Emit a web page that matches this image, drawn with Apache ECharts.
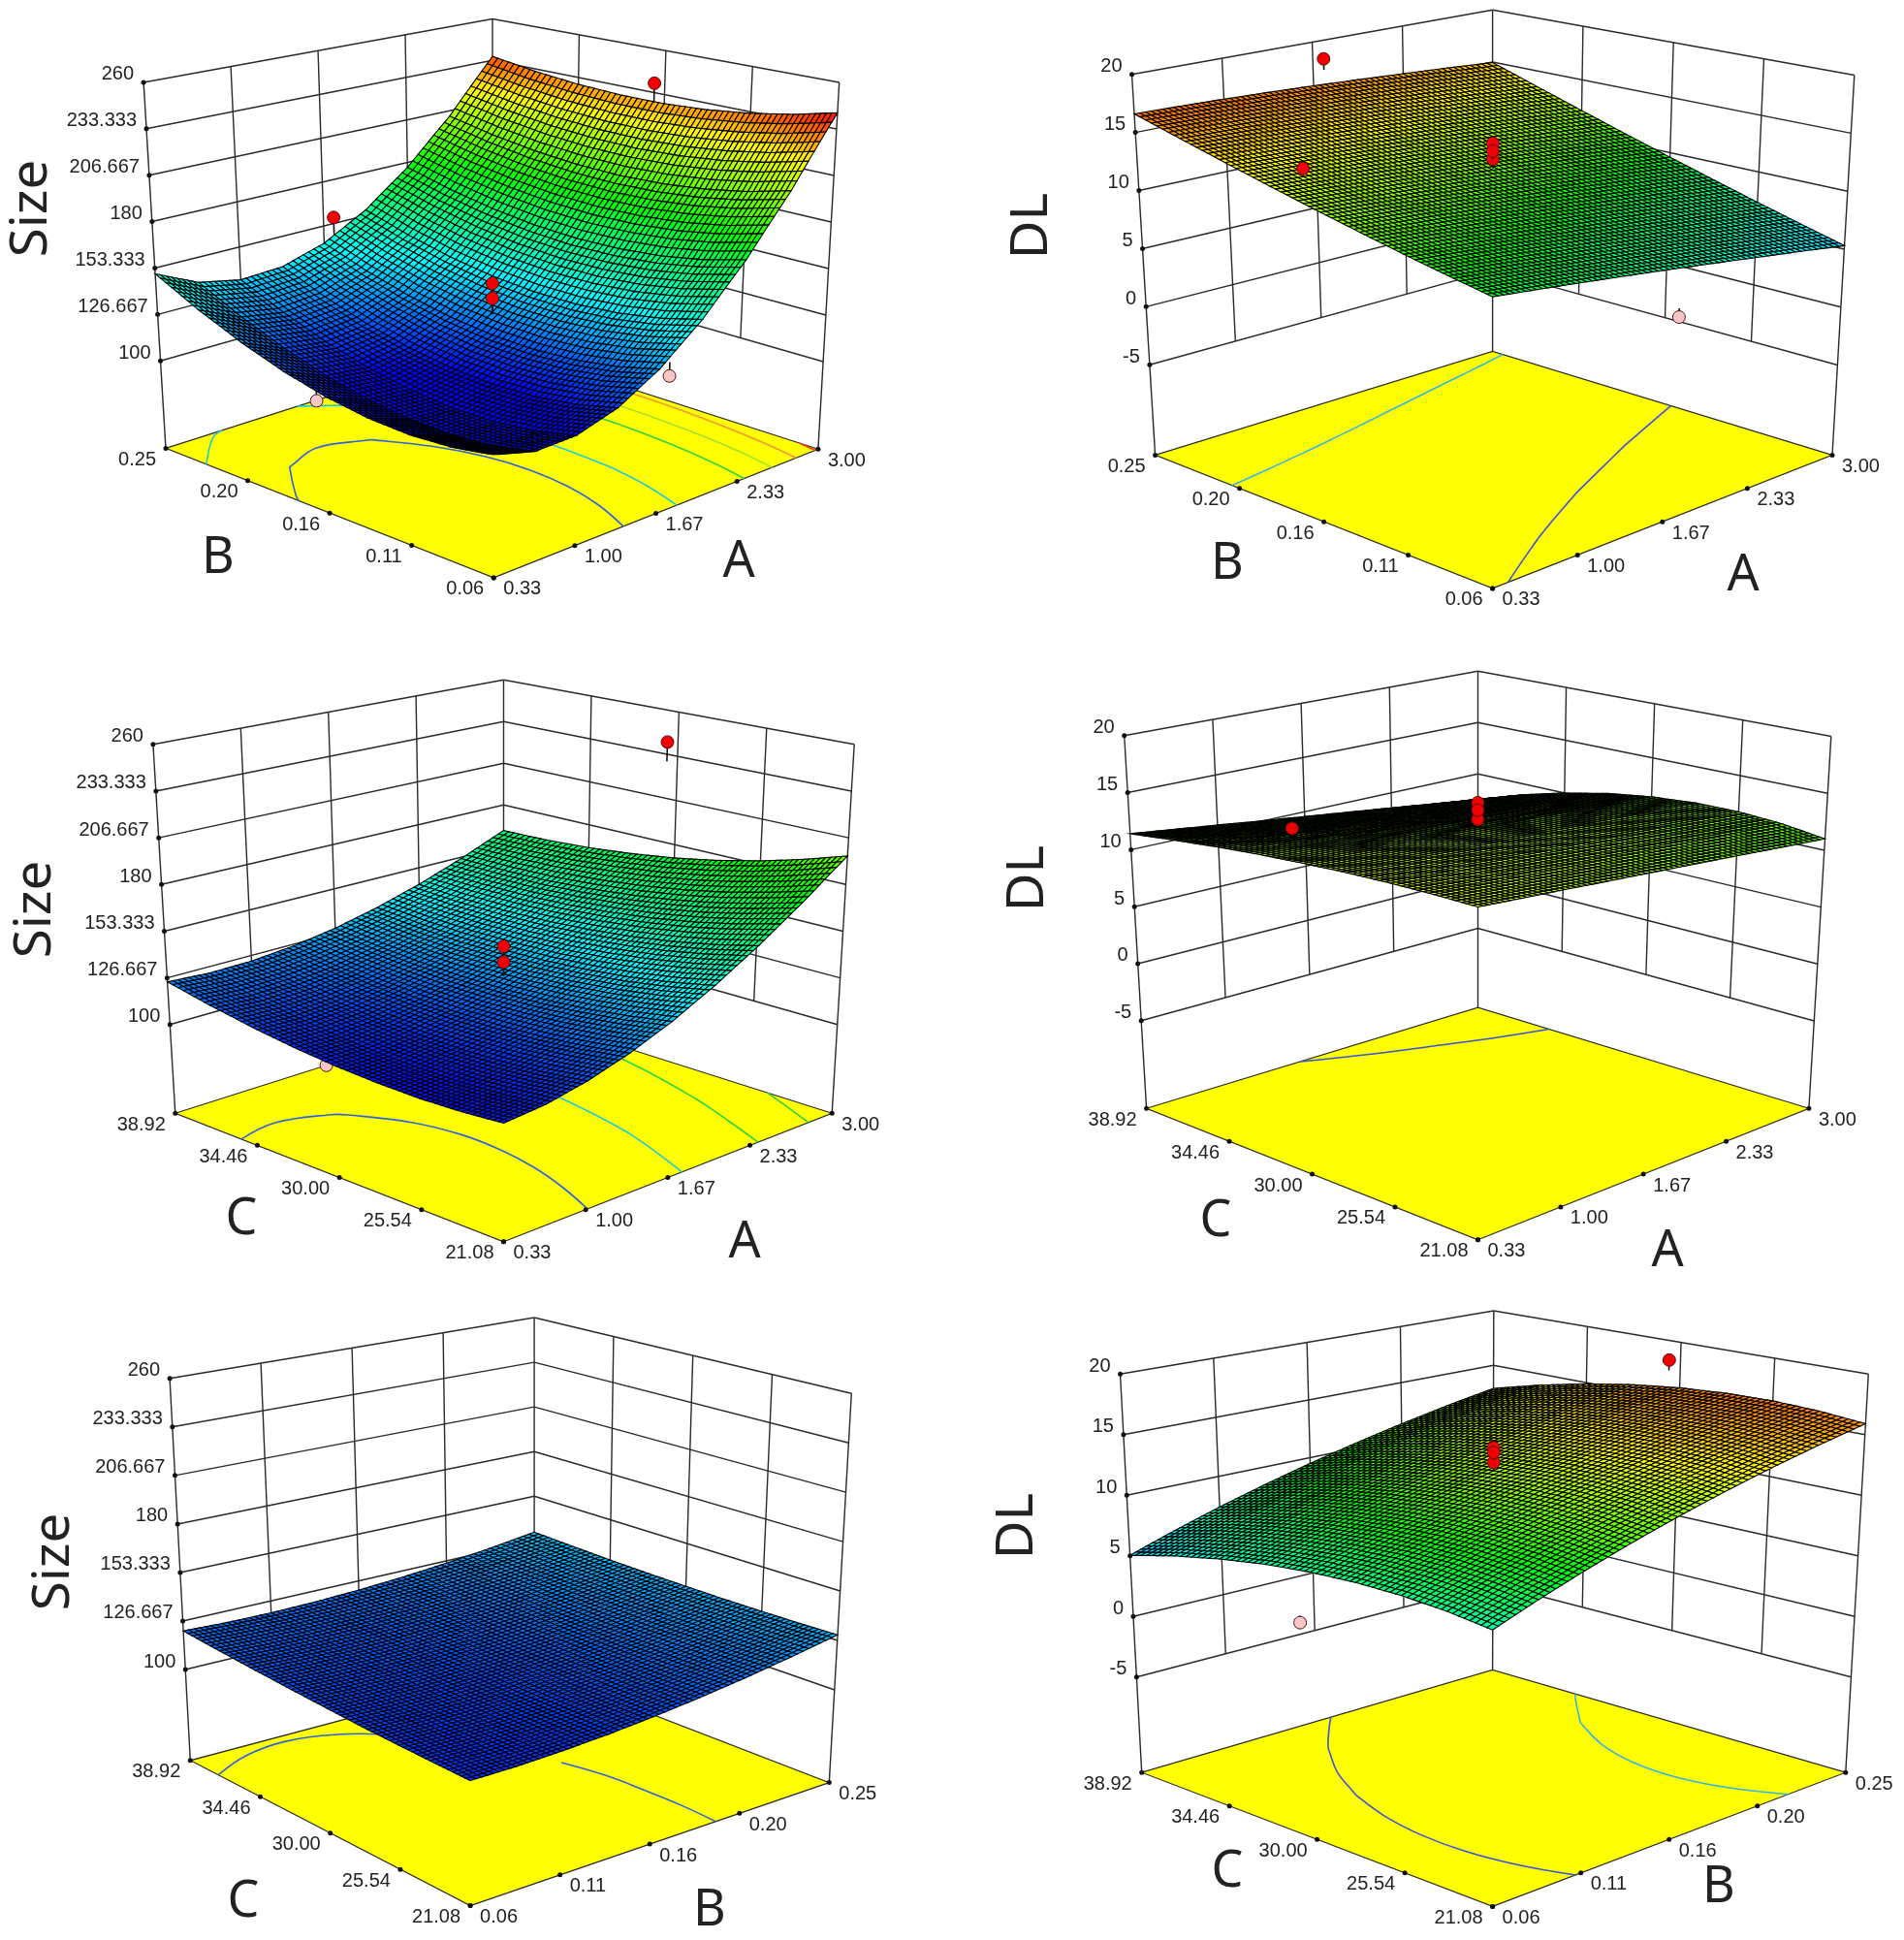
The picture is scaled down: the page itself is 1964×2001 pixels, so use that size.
<!DOCTYPE html>
<html>
<head>
<meta charset="utf-8">
<style>html,body{margin:0;background:#fff}#chart{width:1964px;height:2001px}</style>
<script src="https://cdn.jsdelivr.net/npm/echarts@6/dist/echarts.min.js"></script>
</head>
<body>
<div id="chart"></div>
<script>
// response surfaces, rows are the second factor (low to high), columns the first
const sizeAB = [
  [111.4,105.9,106.7,113.7,127.0,146.5,172.3,204.3,242.6],
  [108.0,101.8,102.0,108.6,121.5,140.8,166.4,198.4,236.8],
  [106.9,100.1,99.7,105.7,118.2,137.1,162.4,194.2,232.4],
  [108.2,100.7,99.6,105.1,117.0,135.4,160.3,191.6,229.4],
  [111.8,103.6,101.9,106.7,117.9,135.7,159.9,190.6,227.8],
  [117.8,108.9,106.4,110.5,121.0,137.9,161.4,191.3,227.7],
  [126.2,116.5,113.3,116.5,126.2,142.2,164.7,193.6,229.0],
  [136.9,126.5,122.5,124.8,133.5,148.5,169.9,197.6,231.7],
  [150.0,138.9,134.0,135.3,142.9,156.8,176.9,203.2,235.8]
];
const sizeAC = [
  [109.0,111.2,116.0,123.2,132.8,145.0,159.6,176.7,196.3],
  [107.5,109.3,113.4,120.0,129.0,140.3,154.1,170.3,188.8],
  [106.9,108.2,111.9,117.8,126.1,136.6,149.5,164.7,182.2],
  [107.4,108.3,111.4,116.7,124.2,134.0,146.0,160.2,176.6],
  [108.8,109.2,111.8,116.5,123.3,132.3,143.4,156.7,172.0],
  [111.2,111.2,113.2,117.3,123.4,131.6,141.8,154.1,168.5],
  [114.6,114.1,115.6,119.0,124.5,131.8,141.2,152.5,165.8],
  [119.0,118.0,119.0,121.8,126.5,133.1,141.6,152.0,164.2],
  [124.4,123.0,123.4,125.6,129.6,135.4,143.0,152.4,163.6]
];
const sizeBC = [
  [111.5,111.5,112.2,113.5,115.5,118.1,121.3,125.2,129.7],
  [112.0,111.9,112.5,113.7,115.5,118.0,121.1,124.8,129.2],
  [112.7,112.5,112.9,114.0,115.7,118.1,121.1,124.7,129.0],
  [113.5,113.2,113.5,114.5,116.1,118.3,121.2,124.7,128.9],
  [114.7,114.2,114.4,115.3,116.8,118.9,121.6,125.0,129.1],
  [116.0,115.4,115.5,116.2,117.6,119.6,122.2,125.5,129.4],
  [117.5,116.8,116.8,117.4,118.7,120.5,123.1,126.2,130.0],
  [119.2,118.4,118.3,118.8,119.9,121.6,124.0,127.1,130.8],
  [121.2,120.3,120.0,120.4,121.4,123.0,125.3,128.2,131.8]
];
const dlAB = [
  [9.5,9.09,8.65,8.17,7.66,7.12,6.54,5.94,5.3],
  [10.15,9.78,9.38,8.94,8.47,7.97,7.43,6.87,6.27],
  [10.86,10.53,10.17,9.77,9.34,8.88,8.38,7.86,7.3],
  [11.65,11.36,11.04,10.68,10.29,9.87,9.41,8.93,8.41],
  [12.5,12.25,11.97,11.65,11.3,10.92,10.5,10.06,9.58],
  [13.42,13.21,12.97,12.69,12.38,12.04,11.66,11.25,10.81],
  [14.41,14.24,14.04,13.8,13.53,13.23,12.88,12.52,12.12],
  [15.47,15.34,15.18,14.98,14.75,14.48,14.18,13.86,13.5],
  [16.6,16.51,16.39,16.23,16.04,15.81,15.55,15.27,14.95]
];
const dlAC = [
  [13.4,13.14,12.88,12.59,12.3,12,11.68,11.34,11],
  [13.43,13.23,13.03,12.79,12.56,12.33,12.07,11.79,11.51],
  [13.38,13.21,13.06,12.86,12.66,12.46,12.23,11.98,11.74],
  [13.25,13.09,12.95,12.76,12.58,12.39,12.18,11.94,11.71],
  [13.04,12.88,12.71,12.52,12.33,12.12,11.9,11.66,11.41],
  [12.75,12.56,12.35,12.12,11.9,11.67,11.4,11.12,10.85],
  [12.38,12.13,11.88,11.58,11.29,11,10.69,10.35,10.01],
  [11.93,11.6,11.26,10.89,10.52,10.15,9.74,9.32,8.91],
  [11.4,10.96,10.52,10.04,9.57,9.09,8.59,8.06,7.54]
];
const dlBC = [
  [7.44,8.73,9.95,11.11,12.2,13.22,14.18,15.07,15.9],
  [7.86,9.14,10.35,11.5,12.58,13.59,14.54,15.42,16.24],
  [8.08,9.35,10.55,11.69,12.76,13.76,14.7,15.57,16.39],
  [8.09,9.35,10.54,11.67,12.74,13.73,14.66,15.52,16.32],
  [7.9,9.15,10.33,11.46,12.51,13.49,14.41,15.26,16.06],
  [7.51,8.75,9.92,11.04,12.08,13.05,13.96,14.81,15.59],
  [6.9,8.13,9.3,10.4,11.43,12.39,13.3,14.13,14.9],
  [6.08,7.3,8.46,9.55,10.57,11.53,12.42,13.24,14.0],
  [5.05,6.26,7.41,8.49,9.5,10.45,11.33,12.15,12.9]
];

// tick labels
const aLabels = ['0.33','1.00','1.67','2.33','3.00'];
const bLabels = ['0.06','0.11','0.16','0.20','0.25'];
const cLabels = ['21.08','25.54','30.00','34.46','38.92'];
const sizeTicks = [260,233.333,206.667,180,153.333,126.667,100];
const dlTicks = [20,15,10,5,0,-5];

// design points [first factor, second factor, response, end of stem], as fractions of the factor range
const redAB1 = [[0.5,0.5,147.3,129.8],[0.5,0.5,138.8,129.8],[1,0.53,239,227],[0.53,1,157,146]];
const pinkAB1 = [[0,0.53,108,116],[0.53,0,121.5,129]];
const redAC1 = [[0.5,0.5,147.5,130.7],[0.5,0.5,138.5,130.7],[1,0.53,240.7,229]];
const pinkAC1 = [[0,0.53,107.5,113]];
const redAB2 = [[0.5,0.5,13.2,12.4],[0.5,0.5,14.56,14],[0.5,0.5,13.9,13.2],[0,0.53,15.6,15],[0.53,1,18.3,17.3]];
const pinkAB2 = [[1,0.46,-4.6,-3.8]];
const redAC2 = [[0.5,0.5,13.2,12.6],[0.5,0.5,14.66,14],[0.5,0.5,14,13.4],[0,0.53,15.7,15.3]];
const redBC2 = [[0.5,0.5,13.2,12.6],[0.5,0.5,14.4,13.8],[0.5,0.5,14,13.4],[1,0.53,18.3,17.4]];
const pinkBC2 = [[0.46,1,-4,-3.4]];

// contour levels on the floor
const levelsAB1 = [116.3,137,178,200,222,240];
const levelsAC1 = [116.3,137,163,185];
const levelsBC1 = [119.6];
const levelsAB2 = [9.35,14.6];
const levelsAC2 = [9.7];
const levelsBC2 = [9.8,14.8];
const contourBlue = ['#2f62e0','#22c8dc','#2ed24a','#a4e02c','#f0983a','#ee3a1e'];
const contourDL = ['#3a52e0','#36b4e4'];

// response values at blue, cyan, green, yellow, red
const sizeStops = [105,140,180,218,243];
const dlStops = [2,6,10,14,18.5];
const PALETTE = ['#0000ff','#00ffff','#00ff00','#ffff00','#ff0000'];
const SUB = 8; // mesh lines per typed cell
const TEXT = '#222';
const LINE = '#2a2a2a';

const panels = [
  { grid: sizeAB, stops: sizeStops, ticks: sizeTicks, zFloor: 49.8, levels: levelsAB1, levelColors: contourBlue,
    red: redAB1, pink: pinkAB1, uLabels: aLabels, vLabels: bLabels,
    left: [171,462.4], right: [843.9,463.3], front: [509.2,595.9], back: [508,355],
    topLeft: [148.1,84.9], topRight: [865.7,84.9], topBack: [508,19.6],
    zName: 'Size', zPos: [33,215], uName: 'A', uPos: [762,580], vName: 'B', vPos: [225,576] },
  { grid: dlAB, stops: dlStops, ticks: dlTicks, zFloor: -12.77, levels: levelsAB2, levelColors: contourDL,
    red: redAB2, pink: pinkAB2, uLabels: aLabels, vLabels: bLabels,
    left: [1191.6,469.4], right: [1890,469.4], front: [1539.6,606.9], back: [1539.6,362.4],
    topLeft: [1167.5,76.7], topRight: [1912.8,77.6], topBack: [1539.6,10.2],
    zName: 'DL', zPos: [1065,233], uName: 'A', uPos: [1798,594], vName: 'B', vPos: [1266,582] },
  { grid: sizeAC, stops: sizeStops, ticks: sizeTicks, zFloor: 49.4, levels: levelsAC1, levelColors: [contourBlue[0],contourBlue[1],contourBlue[2],contourBlue[2]],
    red: redAC1, pink: pinkAC1, uLabels: aLabels, vLabels: cLabels,
    left: [180.8,1148.2], right: [858.2,1148.2], front: [519.5,1280.8], back: [519.5,1040.8],
    topLeft: [157.9,767.8], topRight: [881.2,767.8], topBack: [519.5,701.2],
    zName: 'Size', zPos: [37,938], uName: 'A', uPos: [768,1282], vName: 'C', vPos: [249,1258] },
  { grid: dlAC, stops: dlStops, ticks: dlTicks, zFloor: -12.7, levels: levelsAC2, levelColors: [contourDL[0]],
    red: redAC2, pink: [], uLabels: aLabels, vLabels: cLabels,
    left: [1182.6,1143.3], right: [1865.9,1143.3], front: [1524.5,1278.8], back: [1524.5,1039.2],
    topLeft: [1159.7,758.8], topRight: [1888.8,759.6], topBack: [1524.5,692.2],
    zName: 'DL', zPos: [1061,906], uName: 'A', uPos: [1720,1291], vName: 'C', vPos: [1254,1260] },
  { grid: sizeBC, stops: sizeStops, ticks: sizeTicks, zFloor: 50, levels: levelsBC1, levelColors: [contourBlue[0]],
    red: [], pink: [], uLabels: bLabels, vLabels: cLabels,
    left: [196.3,1815.8], right: [855.3,1838.6], front: [485.1,1965.6], back: [551.1,1721.5],
    topLeft: [175.1,1421.8], topRight: [878.3,1437.2], topBack: [551.1,1359.1],
    zName: 'Size', zPos: [56,1611], uName: 'B', uPos: [732,1971], vName: 'C', vPos: [251,1962] },
  { grid: dlBC, stops: dlStops, ticks: dlTicks, zFloor: -12.87, levels: levelsBC2, levelColors: contourDL,
    red: redBC2, pink: pinkBC2, uLabels: bLabels, vLabels: cLabels,
    left: [1177.7,1828.2], right: [1903.8,1828.2], front: [1539.6,1966.4], back: [1539.6,1722.4],
    topLeft: [1155.5,1417.2], topRight: [1927.3,1417.2], topBack: [1540.8,1352],
    zName: 'DL', zPos: [1050,1574], uName: 'B', uPos: [1773,1947], vName: 'C', vPos: [1266,1931] }
];

function bilinear(p00, p10, p01, p11, u, v) {
  return (1 - u) * (1 - v) * p00 + u * (1 - v) * p10 + (1 - u) * v * p01 + u * v * p11;
}

function makeProjector(p) {
  // height of the unseen front edge of the box, from the three we can see
  const hSide = (p.left[1] - p.topLeft[1] + p.right[1] - p.topRight[1]) / 2;
  const hBack = p.back[1] - p.topBack[1];
  const hFront = 1 / (2 / hSide - 1 / hBack);
  const topFront = [p.front[0], p.front[1] - hFront];
  const zTop = p.ticks[0];
  return function (u, v, z) {
    const w = (z - p.zFloor) / (zTop - p.zFloor);
    const fx = bilinear(p.front[0], p.right[0], p.left[0], p.back[0], u, v);
    const fy = bilinear(p.front[1], p.right[1], p.left[1], p.back[1], u, v);
    const tx = bilinear(topFront[0], p.topRight[0], p.topLeft[0], p.topBack[0], u, v);
    const ty = bilinear(topFront[1], p.topRight[1], p.topLeft[1], p.topBack[1], u, v);
    return [fx + (tx - fx) * w, fy + (ty - fy) * w];
  };
}

function colorOf(z, stops) {
  if (z <= stops[0]) return PALETTE[0];
  for (let k = 1; k < stops.length; k++) {
    if (z <= stops[k]) {
      const t = (k - 1 + (z - stops[k - 1]) / (stops[k] - stops[k - 1])) / (stops.length - 1);
      return echarts.color.lerp(t, PALETTE);
    }
  }
  return PALETTE[PALETTE.length - 1];
}

function contourSegments(grid, level) {
  const n = grid.length - 1;
  const segs = [];
  for (let j = 0; j < n; j++) {
    for (let i = 0; i < n; i++) {
      const a = grid[j][i], b = grid[j][i + 1], c = grid[j + 1][i + 1], d = grid[j + 1][i];
      const hits = [];
      if ((a - level) * (b - level) < 0) hits.push([(i + (level - a) / (b - a)) / n, j / n]);
      if ((b - level) * (c - level) < 0) hits.push([(i + 1) / n, (j + (level - b) / (c - b)) / n]);
      if ((d - level) * (c - level) < 0) hits.push([(i + (level - d) / (c - d)) / n, (j + 1) / n]);
      if ((a - level) * (d - level) < 0) hits.push([i / n, (j + (level - a) / (d - a)) / n]);
      if (hits.length >= 2) segs.push([hits[0], hits[1]]);
      if (hits.length === 4) segs.push([hits[2], hits[3]]);
    }
  }
  return segs;
}

// join the cell segments into runs so they can be drawn as one smooth line
function chainSegments(segs) {
  const same = (a, b) => Math.abs(a[0] - b[0]) < 1e-9 && Math.abs(a[1] - b[1]) < 1e-9;
  const left = segs.slice();
  const chains = [];
  while (left.length) {
    const chain = left.pop().slice();
    let grown = true;
    while (grown) {
      grown = false;
      for (let k = 0; k < left.length; k++) {
        const s = left[k];
        if (same(s[0], chain[chain.length - 1])) { chain.push(s[1]); }
        else if (same(s[1], chain[chain.length - 1])) { chain.push(s[0]); }
        else if (same(s[0], chain[0])) { chain.unshift(s[1]); }
        else if (same(s[1], chain[0])) { chain.unshift(s[0]); }
        else continue;
        left.splice(k, 1);
        grown = true;
        break;
      }
    }
    chains.push(chain);
  }
  return chains;
}

function lineEl(a, b, color, width) {
  return { type: 'line', shape: { x1: a[0], y1: a[1], x2: b[0], y2: b[1] }, style: { stroke: color, lineWidth: width } };
}

function dotEl(a, r) {
  return { type: 'circle', shape: { cx: a[0], cy: a[1], r: r }, style: { fill: '#111' } };
}

function textEl(text, a, align, font, extra) {
  return Object.assign({ type: 'text', x: a[0], y: a[1],
    style: { text: text, font: font, fill: TEXT, align: align, verticalAlign: 'middle' } }, extra || {});
}

function frameSeries(p, project) {
  const lowTick = p.ticks[p.ticks.length - 1];
  const zTop = p.ticks[0];
  return {
    type: 'custom', coordinateSystem: 'cartesian2d', silent: true, clip: false, animation: false,
    data: [[0, 0]],
    renderItem: function (params, api) {
      const at = (u, v, z) => api.coord(project(u, v, z));
      const kids = [];
      // floor
      kids.push({ type: 'polygon', shape: { points: [at(0,0,p.zFloor), at(1,0,p.zFloor), at(1,1,p.zFloor), at(0,1,p.zFloor)] },
        style: { fill: '#ffff00', stroke: LINE, lineWidth: 1.2 } });
      // contours on the floor
      p.levels.forEach(function (level, k) {
        chainSegments(contourSegments(p.grid, level)).forEach(function (chain) {
          kids.push({ type: 'polyline',
            shape: { points: chain.map(function (q) { return at(q[0], q[1], p.zFloor); }), smooth: 0.4 },
            style: { fill: 'none', stroke: p.levelColors[k], lineWidth: 1.6 } });
        });
      });
      // wall lines
      p.ticks.forEach(function (t) {
        kids.push(lineEl(at(0,1,t), at(1,1,t), LINE, 1.5));
        kids.push(lineEl(at(1,1,t), at(1,0,t), LINE, 1.5));
      });
      [0.25,0.5,0.75].forEach(function (f) {
        kids.push(lineEl(at(f,1,lowTick), at(f,1,zTop), LINE, 1.4));
        kids.push(lineEl(at(1,f,lowTick), at(1,f,zTop), LINE, 1.4));
      });
      kids.push(lineEl(at(0,1,p.zFloor), at(0,1,zTop), LINE, 1.4));
      kids.push(lineEl(at(1,1,p.zFloor), at(1,1,zTop), LINE, 1.4));
      kids.push(lineEl(at(1,0,p.zFloor), at(1,0,zTop), LINE, 1.4));
      return { type: 'group', children: kids };
    }
  };
}

function pointSeries(list, project, fill) {
  return {
    type: 'custom', coordinateSystem: 'cartesian2d', silent: true, clip: false, animation: false,
    data: list.map(function (d, k) { return [k, 0]; }),
    renderItem: function (params, api) {
      const d = list[api.value(0)];
      const a = api.coord(project(d[0], d[1], d[2]));
      const b = api.coord(project(d[0], d[1], d[3]));
      return { type: 'group', children: [
        lineEl(a, b, '#111', 1.6),
        { type: 'circle', shape: { cx: a[0], cy: a[1], r: 6.5 }, style: { fill: fill, stroke: '#5a1010', lineWidth: 1 } }
      ] };
    }
  };
}

function surfaceSeries(p, project) {
  const n = p.grid.length - 1;
  const cells = [];
  for (let j = n - 1; j >= 0; j--) {
    for (let i = n - 1; i >= 0; i--) cells.push([i, j]);
  }
  cells.sort(function (a, b) { return (b[0] + b[1]) - (a[0] + a[1]); });
  return {
    type: 'custom', coordinateSystem: 'cartesian2d', silent: true, clip: false, animation: false,
    progressive: 0,
    data: cells,
    renderItem: function (params, api) {
      const i = api.value(0), j = api.value(1);
      const z00 = p.grid[j][i], z10 = p.grid[j][i + 1], z01 = p.grid[j + 1][i], z11 = p.grid[j + 1][i + 1];
      const pts = [];
      const zs = [];
      for (let b = 0; b <= SUB; b++) {
        pts.push([]); zs.push([]);
        for (let a = 0; a <= SUB; a++) {
          const s = a / SUB, t = b / SUB;
          const z = bilinear(z00, z10, z01, z11, s, t);
          zs[b].push(z);
          pts[b].push(api.coord(project((i + s) / n, (j + t) / n, z)));
        }
      }
      const kids = [];
      for (let b = SUB - 1; b >= 0; b--) {
        for (let a = SUB - 1; a >= 0; a--) {
          const mean = (zs[b][a] + zs[b][a + 1] + zs[b + 1][a] + zs[b + 1][a + 1]) / 4;
          kids.push({ type: 'polygon',
            shape: { points: [pts[b][a], pts[b][a + 1], pts[b + 1][a + 1], pts[b + 1][a]] },
            style: { fill: colorOf(mean, p.stops), stroke: '#000', lineWidth: 1.1 } });
        }
      }
      return { type: 'group', children: kids };
    }
  };
}

function labelSeries(p, project) {
  const FONT = '20px "Liberation Sans"';
  const BIG = '52px "Noto Sans"';
  return {
    type: 'custom', coordinateSystem: 'cartesian2d', silent: true, clip: false, animation: false,
    data: [[0, 0]],
    renderItem: function (params, api) {
      const at = (u, v, z) => api.coord(project(u, v, z));
      const kids = [];
      p.ticks.forEach(function (t) {
        const a = at(0, 1, t);
        kids.push(dotEl(a, 2.5));
        kids.push(textEl(String(t), [a[0] - 10, a[1] - 8], 'right', FONT));
      });
      p.uLabels.forEach(function (s, k) {
        const a = at(k / 4, 0, p.zFloor);
        kids.push(dotEl(a, 2.5));
        kids.push(textEl(s, [a[0] + 10, a[1] + 12], 'left', FONT));
      });
      p.vLabels.forEach(function (s, k) {
        const a = at(0, k / 4, p.zFloor);
        kids.push(dotEl(a, 2.5));
        kids.push(textEl(s, [a[0] - 10, a[1] + 12], 'right', FONT));
      });
      kids.push(textEl(p.zName, api.coord(p.zPos), 'center', BIG, { rotation: Math.PI / 2, scaleX: 1.05 }));
      kids.push(textEl(p.uName, api.coord(p.uPos), 'center', BIG, { scaleX: 1 }));
      kids.push(textEl(p.vName, api.coord(p.vPos), 'center', BIG, { scaleX: 1 }));
      return { type: 'group', children: kids };
    }
  };
}

const series = [];
panels.forEach(function (p) {
  const project = makeProjector(p);
  series.push(frameSeries(p, project));
  if (p.pink.length) series.push(pointSeries(p.pink, project, '#f7c6c6'));
  series.push(surfaceSeries(p, project));
  if (p.red.length) series.push(pointSeries(p.red, project, '#f00000'));
  series.push(labelSeries(p, project));
});

const chart = echarts.init(document.getElementById('chart'));
chart.setOption({
  backgroundColor: '#fff',
  animation: false,
  grid: { left: 0, right: 0, top: 0, bottom: 0 },
  xAxis: { type: 'value', min: 0, max: 1964, show: false },
  yAxis: { type: 'value', min: 0, max: 2001, inverse: true, show: false },
  series: series
});
</script>
</body>
</html>
